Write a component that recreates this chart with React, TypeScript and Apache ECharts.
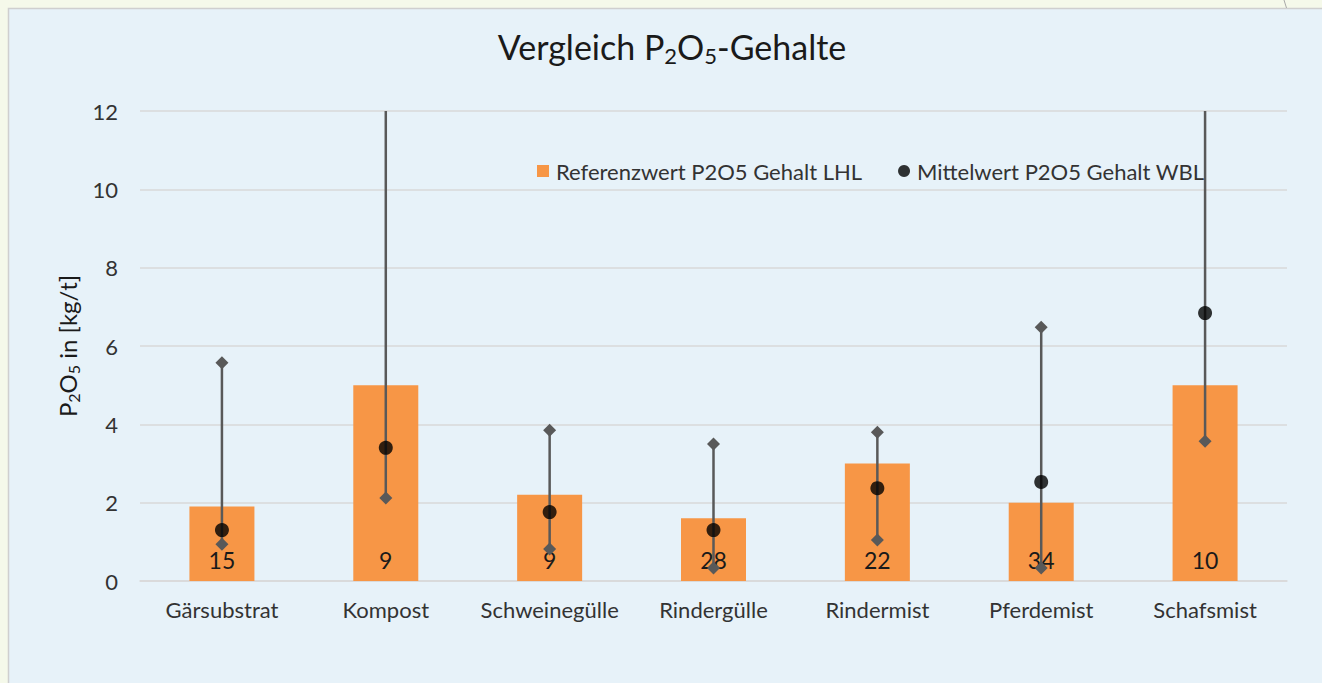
import React, { useEffect, useRef } from "react";
import * as echarts from "echarts";

const categories = ["Gärsubstrat", "Kompost", "Schweinegülle", "Rindergülle", "Rindermist", "Pferdemist", "Schafsmist"];
const referenceValues = [1.9, 5.0, 2.2, 1.6, 3.0, 2.0, 5.0];
const meanValues = [1.3, 3.4, 1.76, 1.3, 2.37, 2.53, 6.84];
const minValues = [0.94, 2.12, 0.82, 0.33, 1.05, 0.33, 3.57];
const maxValues = [5.57, 14.5, 3.85, 3.5, 3.8, 6.48, 13.5];
const sampleCounts = [15, 9, 9, 28, 22, 34, 10];
const yTicks = { min: 0, max: 12, interval: 2 };

const FONT = "Lato";
const TEXT = "#333333";
const DARK = "#1A1A1A";

export default function App() {
  const ref = useRef<HTMLDivElement>(null);
  useEffect(() => {
    if (!ref.current) return;
    const chart = echarts.init(ref.current, undefined, { renderer: "svg" });
    const rangeData = categories.map((_, i) => [i, minValues[i], maxValues[i]]);
    chart.setOption({
      animation: false,
      backgroundColor: "#F5F9EA",
      textStyle: { fontFamily: FONT },
      graphic: [
        {
          type: "rect",
          z: -10,
          silent: true,
          shape: { x: 8.5, y: 8.5, width: 1340, height: 700 },
          style: { fill: "#E7F2F9", stroke: "#CFCFCF", lineWidth: 1.5 },
        },
        {
          type: "line",
          z: -9,
          silent: true,
          shape: { x1: 1284, y1: 0, x2: 1286.5, y2: 8 },
          style: { stroke: "#A8A8A8", lineWidth: 1 },
        },
      ],
      title: {
        left: 672,
        top: 26,
        textAlign: "center",
        padding: 0,
        text: "{a|Vergleich P}{s|2}{a|O}{s|5}{a|-Gehalte}",
        textStyle: {
          fontWeight: "normal",
          rich: {
            a: { fontFamily: FONT, fontSize: 34, fontWeight: "normal", color: DARK, lineHeight: 40 },
            s: { fontFamily: FONT, fontSize: 22, fontWeight: "normal", color: DARK, lineHeight: 40, verticalAlign: "bottom" },
          },
        },
      },
      legend: {
        left: 537,
        top: 160,
        padding: 0,
        itemWidth: 12,
        itemHeight: 12,
        itemGap: 36,
        data: [
          { name: "Referenzwert P2O5 Gehalt LHL", icon: "rect" },
          { name: "Mittelwert P2O5 Gehalt WBL", icon: "circle" },
        ],
        textStyle: { fontFamily: FONT, fontSize: 22, color: TEXT, padding: [0, 0, 0, 2] },
      },
      grid: { left: 140, top: 111, right: 35, bottom: 102 },
      xAxis: {
        type: "category",
        data: categories,
        axisTick: { show: false },
        axisLine: { lineStyle: { color: "#D9D9D9", width: 1.5 } },
        axisLabel: { fontFamily: FONT, fontSize: 22, color: TEXT, margin: 17, interval: 0, hideOverlap: false },
      },
      yAxis: {
        type: "value",
        min: yTicks.min,
        max: yTicks.max,
        interval: yTicks.interval,
        axisLine: { show: false },
        axisTick: { show: false },
        splitLine: { lineStyle: { color: "#D9D9D9", width: 1.5 } },
        axisLabel: { fontFamily: FONT, fontSize: 22, color: TEXT, margin: 22 },
        name: "{a|P}{s|2}{a|O}{s|5}{a| in [kg/t]}",
        nameLocation: "middle",
        nameRotate: 90,
        nameGap: 56,
        nameTextStyle: {
          rich: {
            a: { fontFamily: FONT, fontSize: 24, color: DARK, lineHeight: 28 },
            s: { fontFamily: FONT, fontSize: 16, color: DARK, lineHeight: 28, verticalAlign: "bottom" },
          },
        },
      },
      series: [
        {
          name: "Referenzwert P2O5 Gehalt LHL",
          type: "bar",
          data: referenceValues,
          barWidth: 65,
          itemStyle: { color: "#F79646" },
          z: 2,
          label: {
            show: true,
            position: "insideBottom",
            distance: 10,
            fontFamily: FONT,
            fontSize: 23,
            color: DARK,
            formatter: (p: any) => String(sampleCounts[p.dataIndex]),
          },
        },
        {
          name: "Spannweite",
          type: "custom",
          z: 3,
          clip: true,
          data: rangeData,
          encode: { x: 0, y: [1, 2] },
          renderItem: (params: any, api: any) => {
            const i = api.value(0);
            const lo = api.coord([i, api.value(1)]);
            const hi = api.coord([i, api.value(2)]);
            const d = 6.5;
            const diamond = (c: number[]) => ({
              type: "polygon",
              shape: { points: [[c[0], c[1] - d], [c[0] + d, c[1]], [c[0], c[1] + d], [c[0] - d, c[1]]] },
              style: { fill: "#595959" },
            });
            return {
              type: "group",
              children: [
                {
                  type: "line",
                  shape: { x1: lo[0], y1: lo[1], x2: hi[0], y2: hi[1] },
                  style: { stroke: "#595959", lineWidth: 2.5 },
                },
                diamond(lo),
                diamond(hi),
              ],
            };
          },
        },
        {
          name: "Mittelwert P2O5 Gehalt WBL",
          type: "scatter",
          z: 4,
          data: meanValues,
          symbol: "circle",
          symbolSize: 14,
          itemStyle: { color: "#000000" },
        },
      ],
    });
    return () => chart.dispose();
  }, []);
  return (
    <div
      ref={ref}
      style={{ position: "absolute", left: 0, top: 0, width: 1322, height: 683 }}
    />
  );
}
